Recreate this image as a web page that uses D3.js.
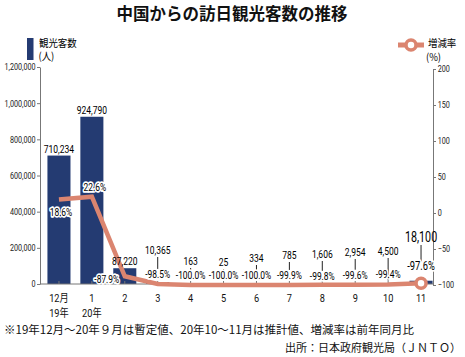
<!DOCTYPE html>
<html><head><meta charset="utf-8">
<script src="https://cdn.jsdelivr.net/npm/d3@7"></script>
<style>
body{margin:0;background:#fff;}
svg{display:block;}
.nar{font-family:Roboto,"Noto Sans CJK JP",sans-serif;}
.jp{font-family:"Noto Sans CJK JP","Noto Sans",sans-serif;}
</style></head><body>
<script>
// ---- data ----
const months = ["12月","1","2","3","4","5","6","7","8","9","10","11"];
const years = ["19年","20年","","","","","","","","","",""];
const visitors = [710234, 924790, 87220, 10365, 163, 25, 334, 785, 1606, 2954, 4500, 18100];
const rates = [18.6, 22.6, -87.9, -98.5, -100.0, -100.0, -100.0, -99.9, -99.8, -99.6, -99.4, -97.6];
const leftTicks = [0, 200000, 400000, 600000, 800000, 1000000, 1200000];
const rightTicks = [-100, -50, 0, 50, 100, 150, 200];

// ---- layout (label placement only) ----
const valLift = [0, 0, 0, 30, 19, 18, 22, 25, 26, 28, 29, 42]; // value label baseline height above x axis
const pctLift = [0, 0, 0, 6, 6, 6, 6, 6, 5, 6, 7, 13];

const W = 465, H = 357;
const svg = d3.select("body").append("svg").attr("width", W).attr("height", H);

const x = d3.scaleBand().domain(months).range([42.5, 437.5]).paddingInner(0.3).paddingOuter(0.15);
const yL = d3.scaleLinear().domain([0, 1200000]).range([284, 67]);
const yR = d3.scaleLinear().domain([-100, 200]).range([285, 69]);
const cx = m => x(m) + x.bandwidth() / 2;

const NAVY = "#243b72", SAL = "#db8570", AX = "#777";

// condensed text helper
function ctext(g, X, Y, str, size, sx, anchor, cls) {
  return g.append("text").attr("class", cls || "nar")
    .attr("transform", `translate(${X},${Y}) scale(${sx},1)`)
    .attr("text-anchor", anchor || "middle").attr("font-size", size).attr("fill", "#000").text(str);
}

// title
svg.append("text").attr("class", "jp").attr("x", 232).attr("y", 20).attr("text-anchor", "middle")
  .attr("font-size", 16.5).attr("font-weight", "bold").attr("fill", "#111").text("中国からの訪日観光客数の推移");

// legends
svg.append("rect").attr("x", 27).attr("y", 38).attr("width", 6.5).attr("height", 22).attr("fill", NAVY);
ctext(svg, 39, 47, "観光客数", 10.5, 0.9, "start", "jp");
ctext(svg, 38.5, 59.5, "(人)", 10.5, 0.9, "start", "jp");
svg.append("line").attr("x1", 398).attr("x2", 424).attr("y1", 45).attr("y2", 45).attr("stroke", SAL).attr("stroke-width", 5);
svg.append("circle").attr("cx", 411).attr("cy", 45).attr("r", 5).attr("fill", "#fff").attr("stroke", SAL).attr("stroke-width", 3.5);
ctext(svg, 428, 47, "増減率", 10.5, 0.9, "start", "jp");
ctext(svg, 426, 61, "(%)", 10.5, 0.9, "start", "jp");

// axes
const gL = svg.append("g").attr("transform", "translate(40,0)")
  .call(d3.axisLeft(yL).tickValues(leftTicks).tickFormat(d3.format(",")).tickSize(3).tickSizeOuter(0));
const gR = svg.append("g").attr("transform", "translate(433,0)")
  .call(d3.axisRight(yR).tickValues(rightTicks).tickSize(3).tickSizeOuter(0));
[gL, gR].forEach(g => {
  g.select(".domain").attr("stroke", AX);
  g.selectAll(".tick line").attr("stroke", AX);
  g.selectAll(".tick text").attr("class", "nar").attr("font-size", 9).attr("fill", "#222")
    .attr("transform", "scale(0.8,1)");
});
gL.selectAll(".tick text").attr("x", -5.5);
gR.selectAll(".tick text").attr("x", 6);

// bars
svg.append("g").selectAll("rect").data(visitors).join("rect")
  .attr("x", (d, i) => x(months[i])).attr("width", x.bandwidth())
  .attr("y", d => yL(d)).attr("height", d => yL(0) - yL(d)).attr("fill", NAVY);

// baseline
svg.append("line").attr("x1", 40).attr("x2", 433).attr("y1", yL(0)).attr("y2", yL(0)).attr("stroke", AX);
svg.append("g").selectAll("line").data(months).join("line")
  .attr("x1", d => cx(d)).attr("x2", d => cx(d)).attr("y1", yL(0)).attr("y2", yL(0) - 3).attr("stroke", AX);

// x labels
const gx = svg.append("g");
months.forEach((m, i) => {
  ctext(gx, cx(m), 302, m, 11.5, 0.8).attr("fill", "#111");
  if (years[i]) ctext(gx, cx(m), 317, years[i], 11.5, 0.8).attr("fill", "#111");
});

// line
const line = d3.line().x((d, i) => cx(months[i])).y(d => yR(d));
svg.append("path").datum(rates).attr("d", line).attr("fill", "none").attr("stroke", SAL)
  .attr("stroke-width", 4.5).attr("stroke-linejoin", "miter");
svg.append("circle").attr("cx", cx(months[11])).attr("cy", yR(rates[11])).attr("r", 5)
  .attr("fill", "#fff").attr("stroke", SAL).attr("stroke-width", 3.5);

// value labels
const fmt = d3.format(",");
const base = yL(0);
visitors.forEach((v, i) => {
  const X = cx(months[i]);
  const big = i === 11;
  let vy;
  if (i < 3) {
    vy = yL(v) - 3;
  } else {
    vy = base - valLift[i];
    const py = yR(rates[i]) - pctLift[i];
    svg.append("line").attr("x1", X).attr("x2", X)
      .attr("y1", vy + 3).attr("y2", i === 10 ? yR(rates[i]) - 4 : py - 9)
      .attr("stroke", "#222").attr("stroke-width", 1);
  }
  ctext(svg, X, vy, fmt(v), big ? 14.5 : 11.5, 0.74);
});

// percent labels
const pctPos = (i) => {
  if (i === 0) return [cx(months[0]) + 2, yR(rates[0]) + 16];
  if (i === 1) return [cx(months[1]) + 3, yR(rates[1]) - 6];
  if (i === 2) return [cx(months[2]) - 18, yR(rates[2]) + 7];
  return [cx(months[i]), yR(rates[i]) - pctLift[i]];
};
rates.forEach((r, i) => {
  const [px, py] = pctPos(i);
  ctext(svg, px, py, r.toFixed(1) + "%", i === 11 ? 12 : 10.8, 0.78)
    .attr("stroke", "#fff").attr("stroke-width", 3.5).attr("paint-order", "stroke").attr("stroke-linejoin", "round");
});

// footnotes
svg.append("text").attr("class", "jp").attr("x", 4).attr("y", 334).attr("font-size", 11.5).attr("fill", "#111")
  .text("※19年12月～20年９月は暫定値、20年10～11月は推計値、増減率は前年同月比");
svg.append("text").attr("class", "jp").attr("x", 461).attr("y", 352).attr("text-anchor", "end").attr("font-size", 11).attr("fill", "#111")
  .text("出所：日本政府観光局（ＪＮＴＯ）");
</script>
</body></html>
